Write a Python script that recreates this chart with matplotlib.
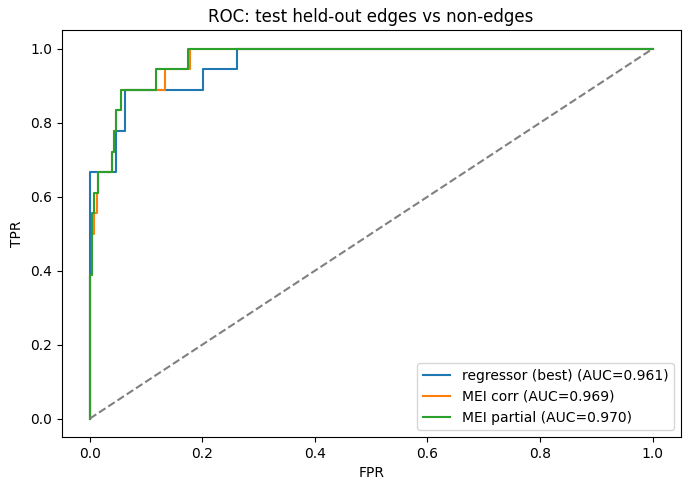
import matplotlib
matplotlib.use("Agg")
import matplotlib.pyplot as plt

# ROC points (TPR in steps of 1/18)
reg_fpr = [0.0, 0.0, 0.001, 0.001, 0.047, 0.047, 0.062, 0.062, 0.2016, 0.2016, 0.261, 0.261, 1.0]
reg_tpr = [0.0, 8/18, 8/18, 12/18, 12/18, 14/18, 14/18, 16/18, 16/18, 17/18, 17/18, 1.0, 1.0]

corr_fpr = [0.0, 0.0, 0.001, 0.001, 0.004, 0.004, 0.007, 0.007, 0.012, 0.012, 0.0142, 0.0142,
            0.040, 0.040, 0.043, 0.043, 0.047, 0.047, 0.055, 0.055, 0.1335, 0.1335, 0.178, 0.178, 1.0]
corr_tpr = [0.0, 4/18, 4/18, 7/18, 7/18, 9/18, 9/18, 10/18, 10/18, 11/18, 11/18, 12/18,
            12/18, 13/18, 13/18, 14/18, 14/18, 15/18, 15/18, 16/18, 16/18, 17/18, 17/18, 1.0, 1.0]

part_fpr = [0.0, 0.0, 0.004, 0.004, 0.007, 0.007, 0.0142, 0.0142, 0.040, 0.040, 0.043, 0.043,
            0.047, 0.047, 0.055, 0.055, 0.117, 0.117, 0.174, 0.174, 1.0]
part_tpr = [0.0, 7/18, 7/18, 10/18, 10/18, 11/18, 11/18, 12/18, 12/18, 13/18, 13/18, 14/18,
            14/18, 15/18, 15/18, 16/18, 16/18, 17/18, 17/18, 1.0, 1.0]

fig, ax = plt.subplots(figsize=(6.9, 4.9), dpi=100)
fig.subplots_adjust(left=0.0894, right=0.9865, bottom=0.108, top=0.938)
ax.plot(reg_fpr, reg_tpr, label="regressor (best) (AUC=0.961)")
ax.plot(corr_fpr, corr_tpr, label="MEI corr (AUC=0.969)")
ax.plot(part_fpr, part_tpr, label="MEI partial (AUC=0.970)")
ax.plot([0, 1], [0, 1], linestyle="--", color="gray")
ax.set_xlabel("FPR")
ax.set_ylabel("TPR")
ax.set_title("ROC: test held-out edges vs non-edges")
ax.legend(loc="lower right")
fig.savefig("out.png")
